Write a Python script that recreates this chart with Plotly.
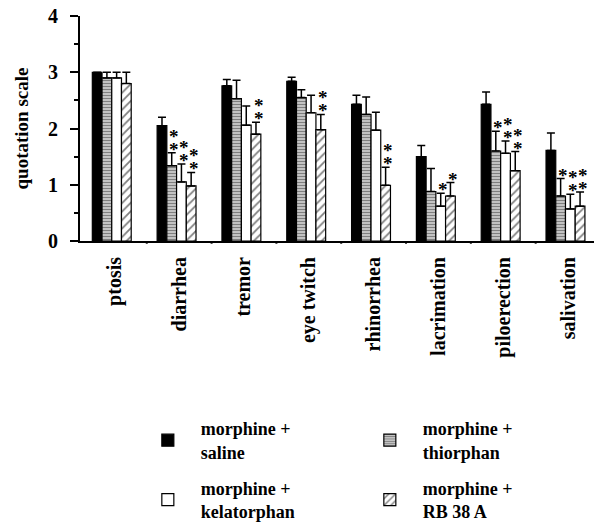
import plotly.graph_objects as go

categories = ["ptosis", "diarrhea", "tremor", "eye twitch", "rhinorrhea",
              "lacrimation", "piloerection", "salivation"]
series_names = ["morphine +<br>saline", "morphine +<br>thiorphan",
                "morphine +<br>kelatorphan", "morphine +<br>RB 38 A"]

saline      = [3.00, 2.05, 2.76, 2.84, 2.43, 1.50, 2.43, 1.61]
thiorphan   = [2.90, 1.34, 2.53, 2.55, 2.25, 0.88, 1.60, 0.80]
kelatorphan = [2.90, 1.05, 2.06, 2.28, 1.97, 0.62, 1.56, 0.57]
rb38a       = [2.80, 0.98, 1.90, 1.98, 0.99, 0.80, 1.25, 0.62]

saline_err      = [0.00, 0.15, 0.11, 0.07, 0.16, 0.20, 0.22, 0.31]
thiorphan_err   = [0.10, 0.23, 0.33, 0.14, 0.31, 0.41, 0.35, 0.31]
kelatorphan_err = [0.10, 0.32, 0.34, 0.31, 0.32, 0.23, 0.22, 0.26]
rb38a_err       = [0.20, 0.24, 0.21, 0.27, 0.32, 0.24, 0.34, 0.25]

# number of significance stars per series / category
saline_sig      = [0, 0, 0, 0, 0, 0, 0, 0]
thiorphan_sig   = [0, 2, 0, 0, 0, 0, 1, 1]
kelatorphan_sig = [0, 2, 0, 0, 0, 1, 2, 2]
rb38a_sig       = [0, 2, 2, 2, 2, 1, 2, 2]

values = [saline, thiorphan, kelatorphan, rb38a]
errors = [saline_err, thiorphan_err, kelatorphan_err, rb38a_err]
sigs = [saline_sig, thiorphan_sig, kelatorphan_sig, rb38a_sig]

bar_w = 0.15
offsets = [-0.34, -0.19, -0.04, 0.11]
patterns = [
    dict(shape="", fillmode="replace"),
    dict(shape="-", size=3, solidity=0.65, fgcolor="black", bgcolor="white"),
    dict(shape="", fillmode="replace"),
    dict(shape="/", size=6, solidity=0.3, fgcolor="black", bgcolor="white"),
]
colors = ["black", "white", "white", "white"]
legends = ["legend", "legend", "legend2", "legend2"]

FONT = "Liberation Serif"
fig = go.Figure()
xidx = list(range(len(categories)))
for j in range(4):
    fig.add_trace(go.Bar(
        x=xidx, y=values[j], name=series_names[j],
        width=bar_w, offset=offsets[j],
        marker=dict(color=colors[j], line=dict(color="black", width=1.2),
                    pattern=patterns[j]),
        error_y=dict(type="data", symmetric=False, array=errors[j],
                     arrayminus=[0] * len(categories), color="black",
                     thickness=1.5, width=4),
        legend=legends[j],
    ))

annotations = []
for j in range(4):
    for i in range(len(categories)):
        n = sigs[j][i]
        for k in range(n):
            annotations.append(dict(
                x=i + offsets[j] + bar_w / 2 + 0.04,
                y=values[j][i] + errors[j][i],
                xref="x", yref="y", text="<b>*</b>", showarrow=False,
                yanchor="bottom", yshift=-9 + 13 * k,
                font=dict(family=FONT, size=19, color="black"),
            ))

legend_common = dict(orientation="h", xref="container", yref="container",
                     xanchor="left", yanchor="middle", entrywidth=151,
                     font=dict(family=FONT, size=18, weight="bold"),
                     bgcolor="rgba(0,0,0,0)", itemwidth=56,
                     traceorder="normal")

fig.update_layout(
    width=594, height=526,
    margin=dict(l=80, r=0, t=16, b=285),
    plot_bgcolor="white", paper_bgcolor="white",
    font=dict(family=FONT, size=18, color="black"),
    showlegend=True,
    annotations=annotations,
    legend=dict(x=0.227, y=0.163, **legend_common),
    legend2=dict(x=0.227, y=0.05, **legend_common),
)

fig.update_xaxes(
    tickmode="array", tickvals=xidx, ticktext=categories,
    range=[-0.53, 7.4], tickangle=-90,
    showline=True, linecolor="black", linewidth=2,
    ticks="", showgrid=False, zeroline=False,
    tickfont=dict(family=FONT, size=20, weight="bold"),
    ticklabelstandoff=6,
)
fig.update_yaxes(
    range=[0, 4], tickvals=[0, 1, 2, 3, 4],
    showline=True, linecolor="black", linewidth=2,
    ticks="outside", ticklen=8, tickwidth=2, tickcolor="black",
    minor=dict(tickvals=[0.5, 1.5, 2.5, 3.5], ticks="outside", ticklen=4,
               tickwidth=2, tickcolor="black"),
    showgrid=False, zeroline=False,
    tickfont=dict(family=FONT, size=20, weight="bold"),
    ticklabelstandoff=8,
    title=dict(text="quotation scale", standoff=14,
               font=dict(family=FONT, size=19, weight="bold")),
)

# category boundary ticks on x axis
for b in [0.5 + i for i in range(len(categories))]:
    fig.add_shape(type="line", xref="x", yref="paper", x0=b, x1=b,
                  y0=0, y1=-0.012, line=dict(color="black", width=2))

fig.write_html("out.html")
